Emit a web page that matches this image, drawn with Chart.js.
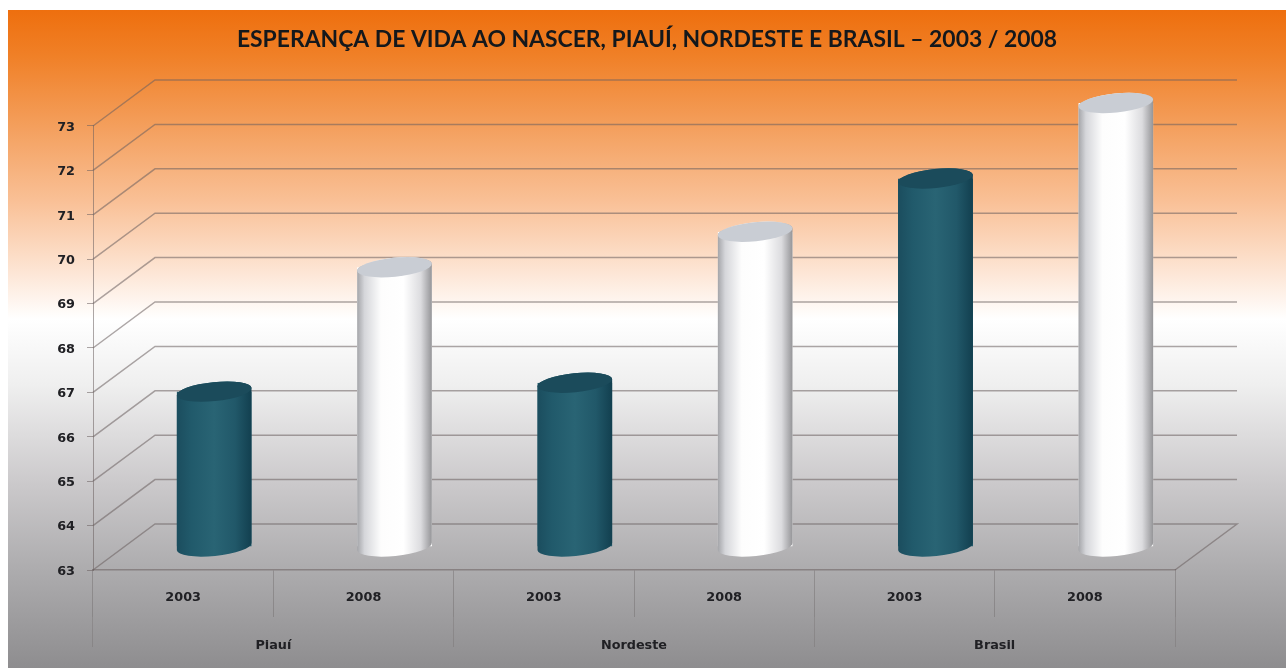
<!DOCTYPE html>
<html><head><meta charset="utf-8">
<style>html,body{margin:0;background:#fff;overflow:hidden}
canvas{position:absolute;left:8px;top:10px;filter:blur(.55px)}</style>
<script src="https://cdn.jsdelivr.net/npm/chart.js@4/dist/chart.umd.js"></script>
</head><body><canvas id="c" width="1278" height="658"></canvas>
<script>
const chartTitle = "ESPERANÇA DE VIDA AO NASCER, PIAUÍ, NORDESTE E BRASIL – 2003 / 2008";
const regions = ["Piauí", "Nordeste", "Brasil"];
const years = ["2003", "2008"];
const values2003 = [66.5, 66.7, 71.3];
const values2008 = [69.3, 70.1, 73.0];
const yMin = 63, yMax = 73;

const labels = regions.flatMap(() => years);
const spread = (arr, pos) => arr.flatMap(v => pos === 0 ? [v, null] : [null, v]);

const depthX = 62, depthY = 46;          // 3-D floor depth
const tilt = -0.1, ellRy = 9.5;
const lineCol = "rgba(105,95,95,.55)";
const tickFont = {family: "'DejaVu Sans'", size: 12.8, weight: "bold"};

const looks = [
  {stops: [[0,"#1b4d5e"],[.2,"#215a6b"],[.5,"#296474"],[.78,"#215869"],[1,"#123f4f"]], cap: "#1b4b5b"},
  {stops: [[0,"#a3a4a8"],[.1,"#d5d6da"],[.32,"#fdfdfd"],[.62,"#ffffff"],[.85,"#dcdcdf"],[1,"#949497"]], cap: "#c9cdd4"}
];

function cylPath(ctx, el) {
  const rx = el.width / 2;
  ctx.beginPath();
  ctx.ellipse(el.x, el.base, rx, ellRy, tilt, 0, Math.PI);
  ctx.ellipse(el.x, el.y, rx, ellRy, tilt, Math.PI, 2 * Math.PI);
  ctx.closePath();
}

const scene = {
  id: "scene",
  beforeDraw(chart) {
    const {ctx, width, height} = chart;
    const g = ctx.createLinearGradient(0, 0, 0, height);
    [[0,"#ee6f0e"],[.07,"#f08027"],[.16,"#f39a54"],[.29,"#f9c096"],[.4,"#fde6d6"],[.47,"#ffffff"],
     [.57,"#efefef"],[.72,"#cbc9cb"],[.85,"#adacae"],[1,"#8e8d8f"]].forEach(s => g.addColorStop(s[0], s[1]));
    ctx.save();
    ctx.fillStyle = g;
    ctx.fillRect(0, 0, width, height);
    ctx.restore();
  },
  beforeDatasetsDraw(chart) {
    const {ctx, scales: {y}, chartArea: a} = chart;
    ctx.save();
    ctx.strokeStyle = lineCol;
    ctx.lineWidth = 1.5;
    y.ticks.forEach(t => {
      const py = y.getPixelForValue(t.value);
      ctx.beginPath();
      ctx.moveTo(a.left, py);
      ctx.lineTo(a.left + depthX, py - depthY);
      ctx.lineTo(a.right + depthX, py - depthY);
      if (t.value === yMin) ctx.lineTo(a.right, py);
      ctx.stroke();
    });
    ctx.restore();
  },
  beforeDatasetDraw(chart, args) {
    const {ctx} = chart;
    const data = chart.data.datasets[args.index].data;
    ctx.save();
    ctx.translate(depthX / 2, -depthY / 2);
    ctx.beginPath();
    args.meta.data.forEach((el, i) => {
      if (data[i] == null) return;
      ctx.rect(el.x - el.width / 2, el.y, el.width, el.base - el.y);
    });
    ctx.clip();
  },
  afterDatasetDraw(chart, args) {
    const {ctx} = chart;
    ctx.restore();
    const look = looks[args.index];
    const data = chart.data.datasets[args.index].data;
    ctx.save();
    ctx.translate(depthX / 2, -depthY / 2);
    args.meta.data.forEach((el, i) => {
      if (data[i] == null) return;
      const rx = el.width / 2;
      const g = ctx.createLinearGradient(el.x - rx, 0, el.x + rx, 0);
      look.stops.forEach(s => g.addColorStop(s[0], s[1]));
      cylPath(ctx, el);
      ctx.fillStyle = g;
      ctx.fill();
      ctx.beginPath();
      ctx.ellipse(el.x, el.y, rx, ellRy, tilt, 0, 2 * Math.PI);
      ctx.fillStyle = look.cap;
      ctx.fill();
    });
    ctx.restore();
  }
};

new Chart(document.getElementById("c"), {
  type: "bar",
  data: {
    labels,
    datasets: [
      {label: years[0], data: spread(values2003, 0), base: yMin, backgroundColor: "#215a6b", clip: false},
      {label: years[1], data: spread(values2008, 1), base: yMin, backgroundColor: "#ffffff", clip: false}
    ]
  },
  options: {
    responsive: false,
    animation: false,
    grouped: false,
    barPercentage: 75 / 180.3,
    categoryPercentage: 1,
    plugins: {
      legend: {display: false},
      tooltip: {enabled: false},
      title: {
        display: true, text: chartTitle, color: "#14181c",
        font: {family: "Lato", size: 22.9, weight: "bold", lineHeight: 1.2},
        padding: {top: 16, bottom: 72.5}
      }
    },
    scales: {
      y: {
        min: yMin, max: yMax,
        afterFit: s => { s.width = 85; },
        ticks: {stepSize: 1, color: "#202024", font: tickFont, padding: 12, labelOffset: 1.5},
        grid: {drawOnChartArea: false, drawTicks: true, tickLength: 6, color: lineCol},
        border: {display: true, color: lineCol}
      },
      rightMargin: {
        type: "linear", position: "right",
        afterFit: s => { s.width = 111; },
        ticks: {display: false},
        grid: {display: false, drawTicks: false},
        border: {display: false}
      },
      x: {
        position: "bottom",
        afterFit: s => { s.height = 47; },
        ticks: {color: "#202024", font: tickFont, padding: -27, autoSkip: false, maxRotation: 0},
        grid: {drawOnChartArea: false, drawTicks: true, tickLength: 47, offset: true, color: "rgba(105,100,100,.4)"},
        border: {display: true, color: lineCol, width: 1.5}
      },
      x2: {
        type: "category", labels: regions, position: "bottom", offset: true,
        afterFit: s => { s.height = 51; },
        ticks: {color: "#202024", font: tickFont, padding: -9, autoSkip: false, maxRotation: 0},
        grid: {drawOnChartArea: false, drawTicks: true, tickLength: 30, offset: true, color: "rgba(105,100,100,.3)"},
        border: {display: false}
      }
    }
  },
  plugins: [scene]
});
</script></body></html>
